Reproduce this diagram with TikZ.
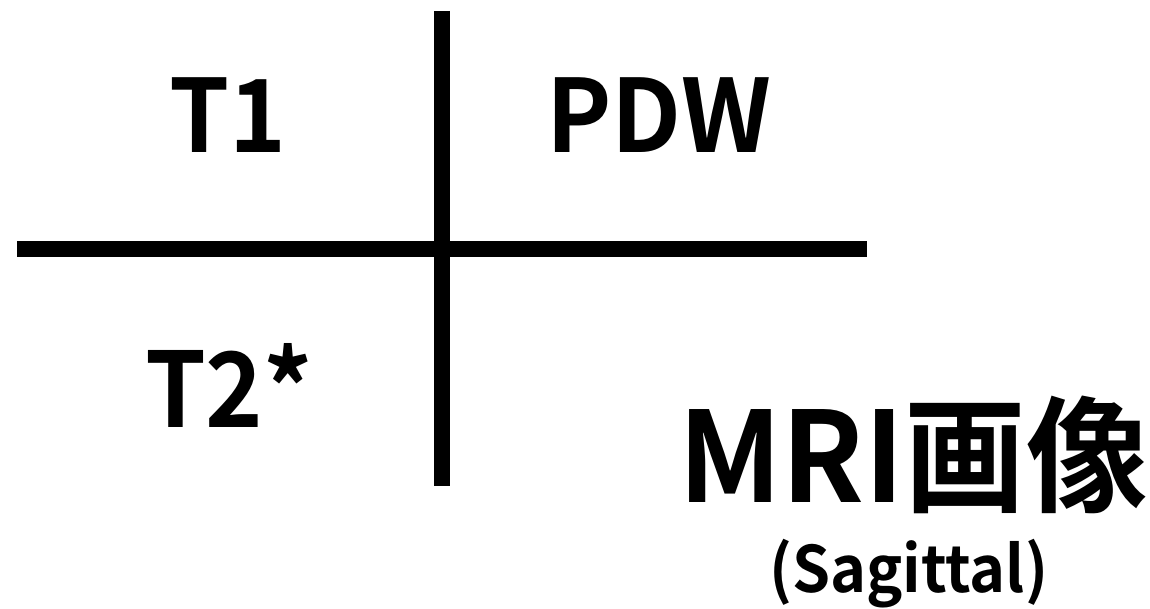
\documentclass[tikz,border=0pt]{standalone}
\usepackage{graphicx}
\usepackage{fontspec}
\setmainfont{Noto Sans CJK JP}[BoldFont={Noto Sans CJK JP Bold}]
\newsavebox\fitbox
\newcommand\fitw[3]{\sbox\fitbox{\fontsize{#2}{#2}\selectfont\bfseries #3}\pgfmathsetmacro\fitsf{#1/\the\wd\fitbox}\scalebox{\fitsf}[1]{\usebox\fitbox}}
\begin{document}
\begin{tikzpicture}[x=1pt,y=1pt,
  lbl/.style={inner sep=0pt,outer sep=0pt,anchor=base},
  bar/.style={line width=16pt,line cap=butt,black}]
\useasboundingbox (0,0) rectangle (1150,-609);
\coordinate (vtop) at (442,-11);
\coordinate (vbot) at (442,-486);
\coordinate (hl) at (17,-249);
\coordinate (hr) at (867,-249);
\draw[bar] (vtop) -- (vbot);
\draw[bar] (hl) -- (hr);
\node[lbl] (t1) at (227.5,-153) {\fitw{117}{101}{T1}};
\node[lbl] (pdw) at (658.5,-153) {\fitw{225}{101}{PDW}};
\node[lbl] (t2) at (229,-427) {\fitw{168}{104}{T2*}};
\node[lbl] (mri) at (913,-502) {\fitw{470}{125.5}{MRI画像}};
\node[lbl] (sag) at (908.5,-592) {\fitw{279}{64}{(Sagittal)}};
\end{tikzpicture}
\end{document}
